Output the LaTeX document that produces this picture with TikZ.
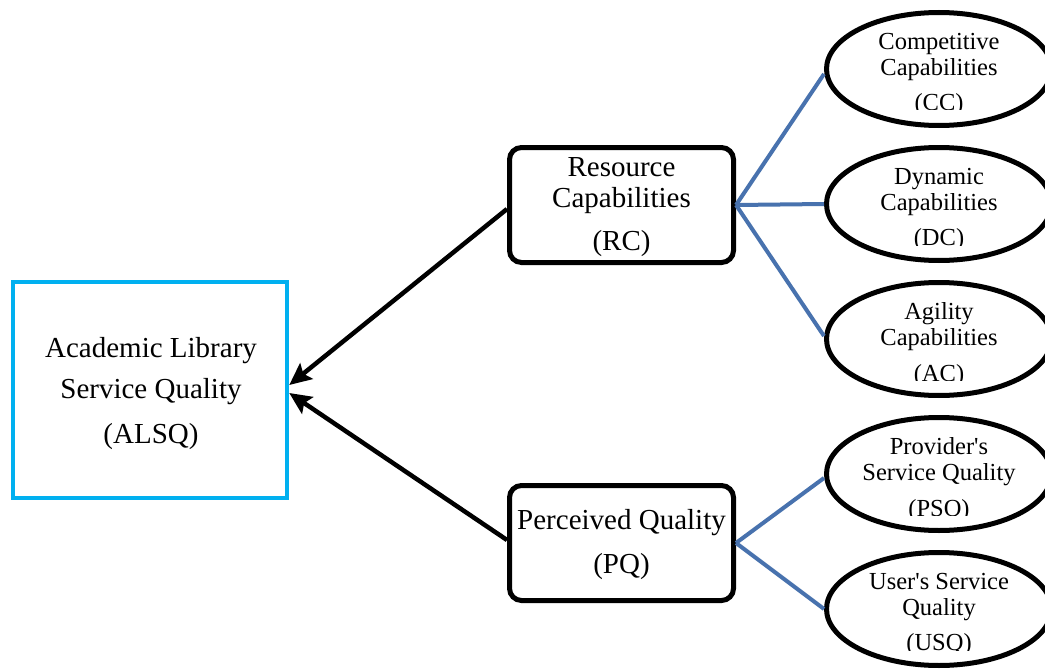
\documentclass[tikz,border=0pt]{standalone}
\usepackage{fontspec}
\setmainfont{Liberation Serif}
\usetikzlibrary{arrows.meta,calc,shapes.geometric}
\definecolor{alsqcyan}{RGB}{0,176,240}
\definecolor{linkblue}{RGB}{72,114,174}
\begin{document}
\begin{tikzpicture}[x=1pt,y=-1pt,
  mainbox/.style={draw=alsqcyan, line width=4.5pt, minimum width=274pt, minimum height=216pt, inner sep=0pt},
  capbox/.style={draw=black, line width=5pt, rounded corners=12pt, minimum width=224pt, minimum height=115pt, inner sep=0pt},
  btxt/.style={align=center, inner sep=0pt, font=\fontsize{29}{31}\selectfont},
  ell/.style={draw=black, ellipse, line width=5pt, minimum width=225pt, minimum height=113pt, inner sep=0pt},
  etxt/.style={align=center, inner sep=0pt, font=\fontsize{24.5}{26}\selectfont},
  arr/.style={draw=black, line width=4.5pt, -{Stealth[length=22pt,width=20pt,inset=4pt]}},
  link/.style={draw=linkblue, line width=4pt}
]
\useasboundingbox (0,0) rectangle (1045,669);
\fill[white] (0,0) rectangle (1045,669);

% main box
\node[mainbox] (alsq) at (150,390) {};
\node[btxt, font=\fontsize{29}{40.5}\selectfont] (alsqt) at (151,394) {Academic Library\\Service Quality\\[5pt](ALSQ)};

% capability boxes
\node[capbox] (rc) at (621.5,205) {};
\node[btxt] (rct) at (621.5,207) {Resource\\Capabilities\\[12pt](RC)};
\node[capbox] (pq) at (621.5,543) {};
\node[btxt] (pqt) at (621.5,545) {Perceived Quality\\[13pt](PQ)};

% ellipses
\node[ell] (cc) at (939,69) {};
\node[ell] (dc) at (939,204) {};
\node[ell] (ac) at (939,339) {};
\node[ell] (psq) at (939,474) {};
\node[ell] (usq) at (939,609) {};

% ellipse texts (bottom of the third line is cut off, as in the figure)
\begin{scope}
\clip (829,8) rectangle (1045,110);
\node[etxt] (cct) at (939,74.5) {Competitive\\Capabilities\\[9.5pt](CC)};
\end{scope}
\begin{scope}
\clip (829,143) rectangle (1045,245);
\node[etxt] (dct) at (939,209.5) {Dynamic\\Capabilities\\[9.5pt](DC)};
\end{scope}
\begin{scope}
\clip (829,278) rectangle (1045,380);
\node[etxt] (act) at (939,344.5) {Agility\\Capabilities\\[9.5pt](AC)};
\end{scope}
\begin{scope}
\clip (829,413) rectangle (1045,515);
\node[etxt] (psqt) at (939,479.5) {Provider\textquotesingle s\\Service Quality\\[9.5pt](PSQ)};
\end{scope}
\begin{scope}
\clip (829,548) rectangle (1045,650);
\node[etxt] (usqt) at (939,614.5) {User\textquotesingle s Service\\Quality\\[9.5pt](USQ)};
\end{scope}

% arrows to ALSQ
\draw[arr] ([yshift=-4pt]rc.west) -- ([yshift=5pt]alsq.east);
\draw[arr] ([yshift=3pt]pq.west) -- ([yshift=-3pt]alsq.east);

% blue links
\draw[link] (rc.east) -- ([yshift=-5pt]cc.west);
\draw[link] (rc.east) -- (dc.west);
\draw[link] (rc.east) -- ([yshift=3pt]ac.west);
\draw[link] (pq.east) -- ([yshift=-4pt]psq.west);
\draw[link] (pq.east) -- (usq.west);
\end{tikzpicture}
\end{document}
